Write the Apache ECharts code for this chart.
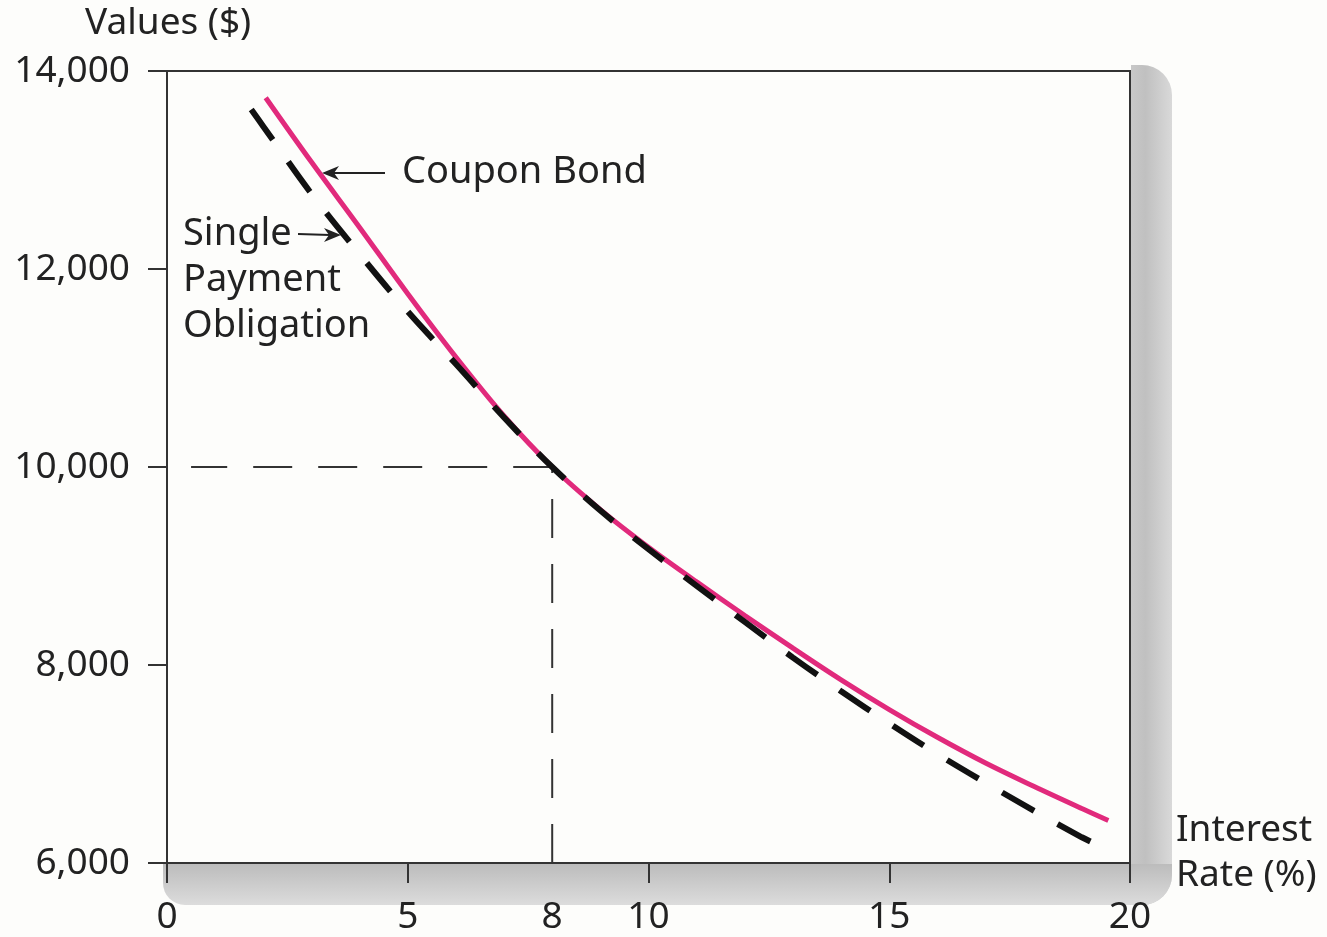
<!DOCTYPE html>
<html>
<head>
<meta charset="utf-8">
<title>Values ($) vs Interest Rate (%)</title>
<script src="https://cdn.jsdelivr.net/npm/echarts@6/dist/echarts.min.js"></script>
<style>
  html, body { margin: 0; padding: 0; background: #fdfdfb; }
  #chart { width: 1327px; height: 937px; }
</style>
</head>
<body>
<div id="chart"></div>
<script>
// Coupon bond value at each interest rate (%)
const couponRates  = [2.05, 3, 4, 5, 6, 7, 8, 9, 10, 11, 12, 13, 14, 15, 16, 17, 18, 19, 19.55];
const couponValues = [13730, 13080, 12420, 11750, 11110, 10515, 10000, 9570, 9190, 8840, 8500, 8170, 7850, 7550, 7270, 7010, 6775, 6550, 6430];

// Single payment obligation value at each interest rate (%)
const singleRates  = [1.75, 2, 3, 4, 5, 6, 7, 8, 9, 10, 11, 12, 13, 14, 15, 16, 17, 18, 19, 19.25];
const singleValues = [13610, 13440, 12760, 12150, 11570, 11040, 10500, 10000, 9560, 9170, 8800, 8435, 8075, 7735, 7410, 7100, 6810, 6530, 6260, 6200];

// Reference point where both instruments are worth the same
const refRate = 8;
const refValue = 10000;

// Axis ticks and labels
const xTicks = [0, 5, 10, 15, 20];
const xLabels = [0, 5, 8, 10, 15, 20];
const yMin = 6000, yMax = 14000, yStep = 2000;

const FONT = '"Noto Sans", "DejaVu Sans", sans-serif';
const INK = '#222';
const AXIS = '#333';

const zip = (xs, ys) => xs.map((x, i) => [x, ys[i]]);

const chart = echarts.init(document.getElementById('chart'), null, { renderer: 'canvas' });

chart.setOption({
  backgroundColor: '#fdfdfb',
  animation: false,
  grid: {
    left: 167, right: 197, top: 71, bottom: 74,
    show: true,
    borderColor: AXIS,
    borderWidth: 2,
    backgroundColor: 'transparent'
  },
  xAxis: {
    type: 'value',
    min: 0, max: 20, interval: 5,
    splitLine: { show: false },
    axisLine: { show: true, onZero: false, lineStyle: { color: AXIS, width: 2 } },
    axisTick: { show: true, inside: false, length: 20, customValues: xTicks, lineStyle: { color: AXIS, width: 2 } },
    axisLabel: {
      customValues: xLabels,
      margin: 36,
      color: INK,
      fontFamily: FONT,
      fontSize: 37
    }
  },
  yAxis: {
    type: 'value',
    min: yMin, max: yMax, interval: yStep,
    splitLine: { show: false },
    axisLine: { show: true, onZero: false, lineStyle: { color: AXIS, width: 2 } },
    axisTick: { show: true, inside: false, length: 19, lineStyle: { color: AXIS, width: 2 } },
    axisLabel: {
      margin: 37,
      color: INK,
      fontFamily: FONT,
      fontSize: 37,
      formatter: v => v.toLocaleString('en-US')
    }
  },
  series: [
    {
      name: 'Reference rate',
      type: 'line',
      data: [[refRate, refValue], [0.5, refValue]],
      symbol: 'none',
      silent: true,
      z: 1,
      lineStyle: { color: AXIS, width: 2, type: [39, 26], cap: 'butt' }
    },
    {
      name: 'Reference value',
      type: 'line',
      data: [[refRate, yMin], [refRate, refValue]],
      symbol: 'none',
      silent: true,
      z: 1,
      lineStyle: { color: AXIS, width: 2, type: [39, 26], cap: 'butt' }
    },
    {
      name: 'Coupon Bond',
      type: 'line',
      data: zip(couponRates, couponValues),
      smooth: 0.35,
      symbol: 'none',
      z: 3,
      lineStyle: { color: '#e12a7c', width: 5 }
    },
    {
      name: 'Single Payment Obligation',
      type: 'line',
      data: zip(singleRates, singleValues),
      smooth: 0.35,
      symbol: 'none',
      z: 4,
      lineStyle: { color: '#111', width: 6, type: [37, 27], cap: 'butt' }
    }
  ],
  graphic: [
    // drop shadow behind the plot frame: right strip and bottom strip
    {
      type: 'rect', z: -1, silent: true,
      shape: { x: 1131, y: 65, width: 41, height: 840, r: [0, 30, 30, 0] },
      style: {
        fill: new echarts.graphic.LinearGradient(0, 0, 1, 0, [
          { offset: 0, color: '#c8c8c8' },
          { offset: 0.35, color: '#c0c0c0' },
          { offset: 1, color: '#d9d9d9' }
        ])
      }
    },
    {
      type: 'rect', z: -1, silent: true,
      shape: { x: 163, y: 864, width: 1009, height: 41, r: [0, 0, 30, 22] },
      style: {
        fill: new echarts.graphic.LinearGradient(0, 0, 0, 1, [
          { offset: 0, color: '#bcbcbc' },
          { offset: 1, color: '#dcdcdc' }
        ])
      }
    },
    // axis titles
    {
      type: 'text', left: 85, top: 5,
      style: { text: 'Values ($)', fill: INK, font: '37px ' + FONT }
    },
    {
      type: 'text', left: 1176, top: 808,
      style: { text: 'Interest\nRate (%)', fill: INK, font: '37px ' + FONT, lineHeight: 45 }
    },
    // curve annotations
    {
      type: 'text', left: 402, top: 153,
      style: { text: 'Coupon Bond', fill: INK, font: '38px ' + FONT }
    },
    {
      type: 'line', silent: true,
      shape: { x1: 334, y1: 173, x2: 385, y2: 173 },
      style: { stroke: INK, lineWidth: 2 }
    },
    {
      type: 'polygon', silent: true,
      shape: { points: [[322, 173], [339, 166], [334, 173], [339, 180]] },
      style: { fill: INK }
    },
    {
      type: 'text', left: 183, top: 211,
      style: { text: 'Single\nPayment\nObligation', fill: INK, font: '38px ' + FONT, lineHeight: 46 }
    },
    {
      type: 'line', silent: true,
      shape: { x1: 298, y1: 234, x2: 330, y2: 235 },
      style: { stroke: INK, lineWidth: 2 }
    },
    {
      type: 'polygon', silent: true,
      shape: { points: [[341, 235], [324, 228], [329, 235], [324, 242]] },
      style: { fill: INK }
    }
  ]
});
</script>
</body>
</html>
